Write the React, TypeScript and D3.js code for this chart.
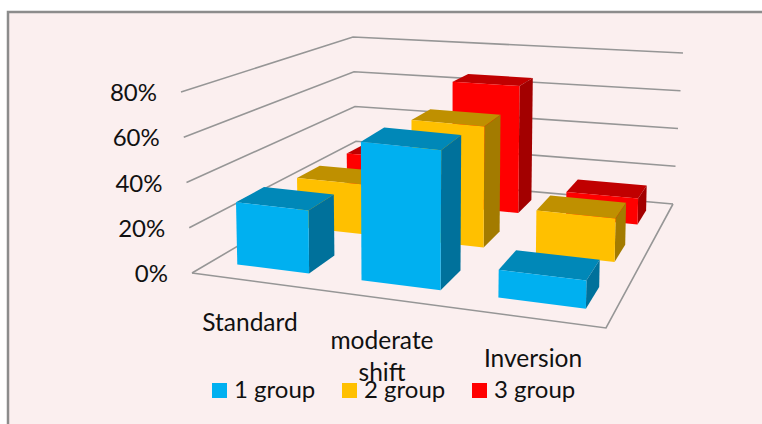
import React from "react";
import * as d3 from "d3";

const categories = ["Standard", "moderate shift", "Inversion"];
const seriesNames = ["1 group", "2 group", "3 group"];
const group1 = [28, 61, 12];
const group2 = [24, 57, 20];
const group3 = [23, 65, 13];
const seriesValues = [group1, group2, group3];
const tickValues = [0, 20, 40, 60, 80];
const frontColors = ["#00B0F0", "#FFC000", "#FF0000"];
const topColors = ["#0088B8", "#BF9000", "#C00000"];
const sideColors = ["#00719B", "#A37B00", "#A30000"];

type P = [number, number];

// Floor corners and the top of the axis box above them: front-left, front-right, back-right, back-left.
const floorQuad: P[] = [[192, 273], [606, 328], [673, 204], [357, 176]];
const ceilQuad: P[] = [[181, 92], [616, 136], [683, 53], [353, 37]];

function homography(q: P[]) {
  const [[x0, y0], [x1, y1], [x2, y2], [x3, y3]] = q;
  const dx1 = x1 - x2, dx2 = x3 - x2, sx = x0 - x1 + x2 - x3;
  const dy1 = y1 - y2, dy2 = y3 - y2, sy = y0 - y1 + y2 - y3;
  const den = dx1 * dy2 - dx2 * dy1;
  const g = (sx * dy2 - dx2 * sy) / den;
  const h = (dx1 * sy - sx * dy1) / den;
  const a = x1 - x0 + g * x1, b = x3 - x0 + h * x3, c = x0;
  const d = y1 - y0 + g * y1, e = y3 - y0 + h * y3, f = y0;
  return (u: number, v: number): P => {
    const w = g * u + h * v + 1;
    return [(a * u + b * v + c) / w, (d * u + e * v + f) / w];
  };
}

const floorAt = homography(floorQuad);
const heightScale = d3.scaleLinear().domain([0, 80]).range([0, 1]);
const catScale = d3.scaleBand<number>().domain([0, 1, 2]).range([0.005, 1.005]).paddingInner(0.41).paddingOuter(0.2);
const depthScale = d3.scaleBand<number>().domain([0, 1, 2]).range([0, 1]).paddingInner(0.565).paddingOuter(0.28);

// Rise of a point above the floor, blended from the rises at the four box corners.
function project(u: number, v: number, value: number, lean = 1): P {
  const t = heightScale(value);
  const [x, y] = floorAt(u, v);
  const blend = (i: 0 | 1) => {
    const o = (k: number) => ceilQuad[k][i] - floorQuad[k][i];
    return (1 - v) * ((1 - u) * o(0) + u * o(1)) + v * ((1 - u) * o(3) + u * o(2));
  };
  return [x + blend(0) * t * lean, y + blend(1) * t];
}

const poly = (pts: P[]) => pts.map((p) => p.map((n) => n.toFixed(1)).join(",")).join(" ");
const line = d3.line();
const font = "Lato, Carlito, 'Open Sans', sans-serif";
const barLean = 0.4;

function Bar({ cat, ser }: { cat: number; ser: number }) {
  const value = seriesValues[ser][cat];
  const u0 = catScale(cat)!, u1 = u0 + catScale.bandwidth();
  const v0 = depthScale(ser)!, v1 = v0 + depthScale.bandwidth();
  const pt = (u: number, v: number, h: number) => project(u, v, h, barLean);
  return (
    <g>
      <polygon points={poly([pt(u0, v0, value), pt(u1, v0, value), pt(u1, v1, value), pt(u0, v1, value)])} fill={topColors[ser]} />
      <polygon points={poly([pt(u1, v0, 0), pt(u1, v1, 0), pt(u1, v1, value), pt(u1, v0, value)])} fill={sideColors[ser]} />
      <polygon points={poly([pt(u0, v0, 0), pt(u1, v0, 0), pt(u1, v0, value), pt(u0, v0, value)])} fill={frontColors[ser]} />
    </g>
  );
}

export default function App() {
  return (
    <svg width={762} height={424} style={{ position: "absolute", left: 0, top: 0, background: "#fff" }}>
      <rect x={8} y={12} width={760} height={420} fill="#FBEFEF" stroke="#8C8C8C" strokeWidth={2.5} />
      {tickValues.map((t) => (
        <path key={t} fill="none" stroke="#969696" strokeWidth={1.6}
          d={line([project(0, 0, t), project(0, 1, t), project(1, 1, t)]) ?? ""} />
      ))}
      <path fill="none" stroke="#969696" strokeWidth={1.6} d={line([project(0, 0, 0), project(1, 0, 0), project(1, 1, 0)]) ?? ""} />
      {tickValues.map((t) => (
        <text key={t} x={project(0, 0, t)[0] - 24} y={project(0, 0, t)[1] + 9} textAnchor="end" fontFamily={font} fontSize={24} fill="#111">{t}%</text>
      ))}
      {[2, 1, 0].map((ser) => [0, 1, 2].map((cat) => <Bar key={`${ser}-${cat}`} cat={cat} ser={ser} />))}
      <g fontFamily={font} fontSize={24.5} fill="#111" textAnchor="middle">
        <text x={250} y={331}>{categories[0]}</text>
        <text x={382} y={349}>moderate</text>
        <text x={382} y={381}>shift</text>
        <text x={533} y={367}>{categories[2]}</text>
      </g>
      {seriesNames.map((s, i) => {
        const xs = [212, 342, 472];
        return (
          <g key={s}>
            <rect x={xs[i]} y={383} width={15} height={15} fill={frontColors[i]} />
            <text x={xs[i] + 22} y={398} fontFamily={font} fontSize={24} fill="#111">{s}</text>
          </g>
        );
      })}
    </svg>
  );
}
